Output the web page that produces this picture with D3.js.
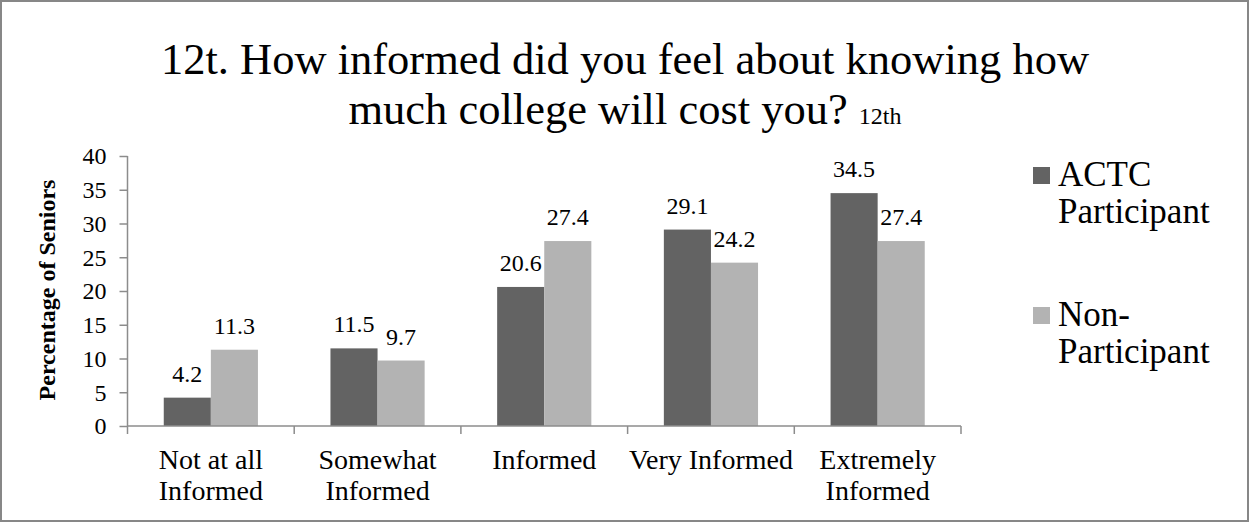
<!DOCTYPE html>
<html>
<head>
<meta charset="utf-8">
<script src="https://cdn.jsdelivr.net/npm/d3@7"></script>
<style>
  html, body { margin: 0; padding: 0; background: #fff; }
  svg { display: block; }
  text { font-family: "Liberation Serif", "DejaVu Serif", serif; fill: #000; }
</style>
</head>
<body>
<svg id="chart" width="1250" height="523"></svg>
<script>
const categories = [["Not at all", "Informed"], ["Somewhat", "Informed"], ["Informed"], ["Very Informed"], ["Extremely", "Informed"]];
const seriesNames = [["ACTC", "Participant"], ["Non-", "Participant"]];
const actc = [4.2, 11.5, 20.6, 29.1, 34.5];
const nonParticipant = [11.3, 9.7, 27.4, 24.2, 27.4];
const yTicks = [0, 5, 10, 15, 20, 25, 30, 35, 40];
const titleLines = ["12t. How informed did you feel about knowing how", "much college will cost you? "];
const titleSuffix = "12th";
const yTitle = "Percentage of Seniors";

const colors = ["#636363", "#b3b3b3"];
const series = [actc, nonParticipant];
const FONT = "Liberation Serif";

const svg = d3.select("#chart");
svg.append("rect").attr("x", 1).attr("y", 1).attr("width", 1247).attr("height", 520)
  .attr("fill", "#fff").attr("stroke", "#878787").attr("stroke-width", 2);

const plotL = 127.5, plotR = 961, plotT = 156, plotB = 426;
const x = d3.scaleBand().domain(d3.range(categories.length)).range([plotL, plotR]).paddingInner(0).paddingOuter(0);
const y = d3.scaleLinear().domain([0, 40]).range([plotB, plotT]);
const groupW = x.bandwidth() * 0.565;
const xs = d3.scaleBand().domain(d3.range(series.length)).range([0, groupW]);

// Title
const title = svg.append("text").attr("text-anchor", "middle").attr("font-size", 44.5);
title.append("tspan").attr("x", 625).attr("y", 74).text(titleLines[0]);
const l2 = title.append("tspan").attr("x", 625).attr("y", 124);
l2.append("tspan").text(titleLines[1]);
l2.append("tspan").attr("font-size", 24).text(titleSuffix);

// y axis
const yAxis = svg.append("g").attr("transform", `translate(${plotL},0)`)
  .call(d3.axisLeft(y).tickValues(yTicks).tickSize(8).tickPadding(13).tickFormat(d3.format("d")));
yAxis.select(".domain").attr("stroke", "#8c8c8c").attr("stroke-width", 1.5).attr("d", `M0,${plotT}V${plotB}`);
yAxis.selectAll(".tick line").attr("stroke", "#8c8c8c").attr("stroke-width", 1.5);
yAxis.selectAll(".tick text").attr("font-family", FONT).attr("font-size", 24).attr("fill", "#000").attr("dy", "0.33em");

// bars
const groups = svg.append("g").selectAll("g").data(categories).join("g")
  .attr("transform", (d, i) => `translate(${x(i) + (x.bandwidth() - groupW) / 2},0)`);
groups.each(function (d, i) {
  const g = d3.select(this);
  series.forEach((s, j) => {
    g.append("rect").attr("x", xs(j)).attr("width", xs.bandwidth())
      .attr("y", y(s[i])).attr("height", y(0) - y(s[i])).attr("fill", colors[j]);
    g.append("text").attr("x", xs(j) + xs.bandwidth() / 2).attr("y", y(s[i]) - 16)
      .attr("text-anchor", "middle").attr("font-size", 24).text(d3.format(".1f")(s[i]));
  });
});

// x axis
const xAxis = svg.append("g").attr("transform", `translate(0,${plotB})`);
xAxis.append("line").attr("x1", plotL).attr("x2", plotR).attr("stroke", "#8c8c8c").attr("stroke-width", 1.5);
const edges = d3.range(categories.length + 1).map(i => i < categories.length ? x(i) : x(i - 1) + x.bandwidth());
xAxis.selectAll("line.tk").data(edges).join("line").attr("class", "tk")
  .attr("x1", d => d).attr("x2", d => d).attr("y1", 0).attr("y2", 8)
  .attr("stroke", "#8c8c8c").attr("stroke-width", 1.5);
const xl = svg.append("g").selectAll("text").data(categories).join("text")
  .attr("text-anchor", "middle").attr("font-size", 28)
  .attr("transform", (d, i) => `translate(${x(i) + x.bandwidth() / 2},469)`);
xl.each(function (d) {
  const t = d3.select(this);
  d.forEach((line, k) => t.append("tspan").attr("x", 0).attr("y", k * 31).text(line));
});

// y title
svg.append("text").attr("transform", "translate(55,290) rotate(-90)")
  .attr("text-anchor", "middle").attr("font-size", 24).attr("font-weight", "bold").text(yTitle);

// legend
const legendY = [167, 307];
seriesNames.forEach((nm, j) => {
  svg.append("rect").attr("x", 1033).attr("y", legendY[j]).attr("width", 17).attr("height", 17).attr("fill", colors[j]);
  const t = svg.append("text").attr("font-size", 35);
  nm.forEach((line, k) => t.append("tspan").attr("x", 1058).attr("y", legendY[j] + 19 + k * 37).text(line));
});
</script>
</body>
</html>
